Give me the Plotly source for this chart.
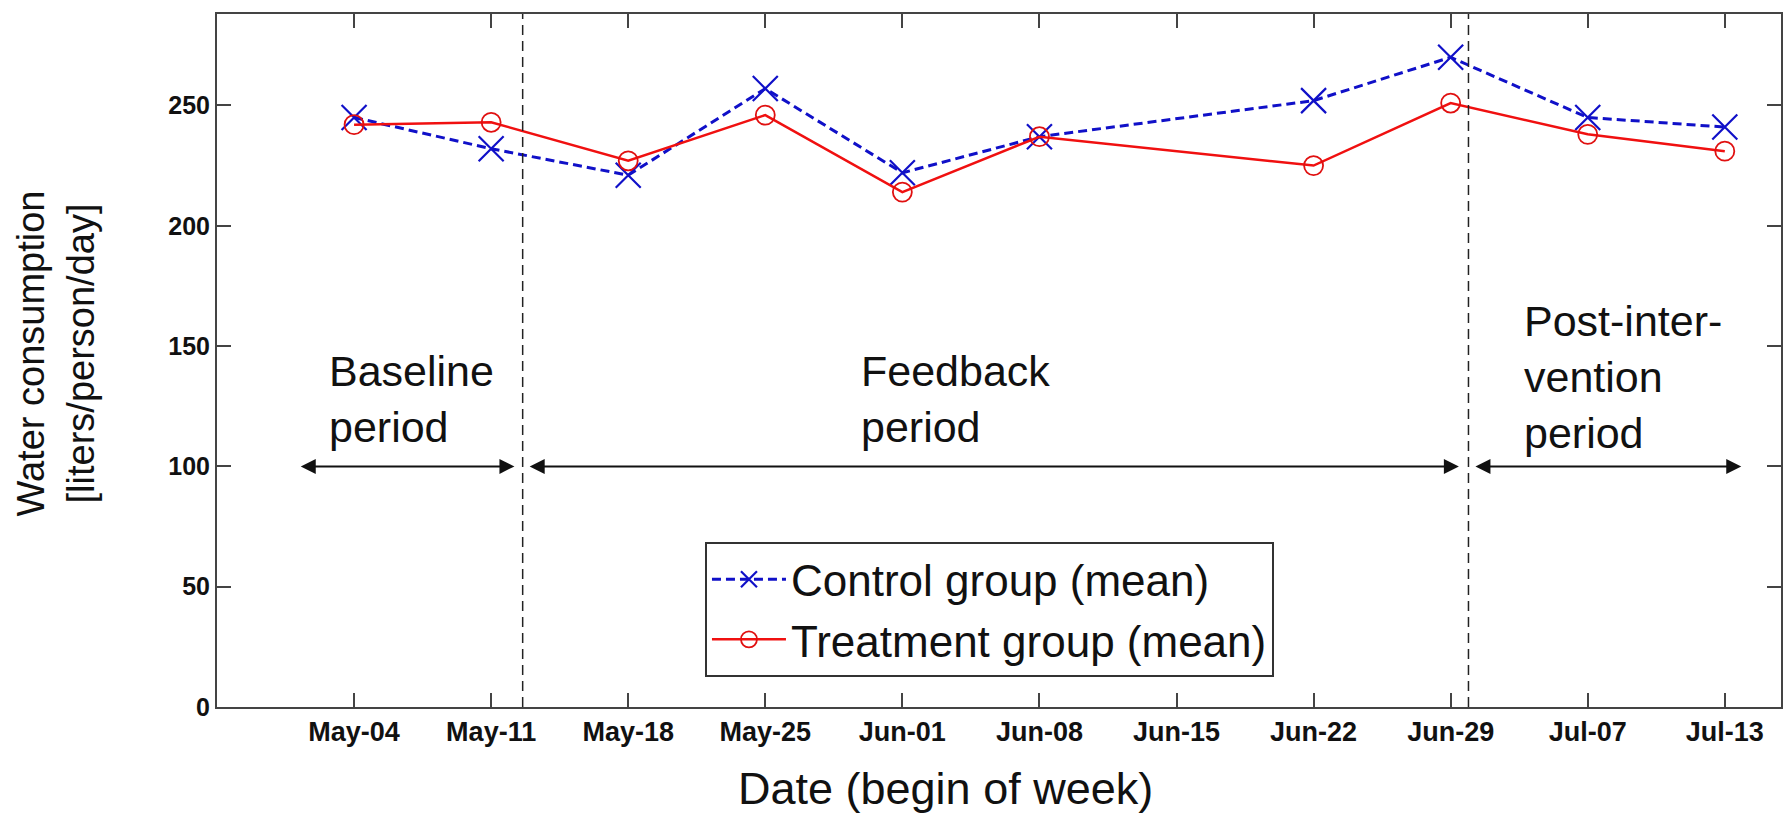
import plotly.graph_objects as go

# Week labels (one tick per week); Jun-15 has no measurement
weeks = ["May-04", "May-11", "May-18", "May-25", "Jun-01", "Jun-08",
         "Jun-15", "Jun-22", "Jun-29", "Jul-07", "Jul-13"]
week_pos = list(range(1, len(weeks) + 1))

obs_pos = [1, 2, 3, 4, 5, 6, 8, 9, 10, 11]
control_mean = [245, 232, 221, 257, 222, 237, 252, 270, 245, 241]
treatment_mean = [242, 243, 227, 246, 214, 237, 225, 251, 238, 231]

# Period boundaries and period arrows (week units, height in liters)
boundaries = [2.23, 9.13]
arrow_y = 100
period_arrows = [(0.60, 2.17), (2.27, 9.06), (9.17, 11.12)]
period_labels = [("Baseline<br>period", 0.80, 128),
                 ("Feedback<br>period", 4.68, 128),
                 ("Post-inter-<br>vention<br>period", 9.52, 137)]

FONT = "Liberation Sans, Arial, sans-serif"
INK = "#111111"

fig = go.Figure()

fig.add_trace(go.Scatter(
    x=obs_pos, y=control_mean, mode="lines+markers",
    name="Control group (mean)",
    line=dict(color="#1010c8", width=3, dash="9px,5px"),
    marker=dict(symbol="x-thin-open", size=25, line=dict(color="#1010c8", width=2.2)),
))
fig.add_trace(go.Scatter(
    x=obs_pos, y=treatment_mean, mode="lines+markers",
    name="Treatment group (mean)",
    line=dict(color="#f01010", width=2.5),
    marker=dict(symbol="circle-open", size=19, color="#e01010", line=dict(color="#d01010", width=1.8)),
))

for b in boundaries:
    fig.add_shape(type="line", xref="x", yref="paper", x0=b, x1=b, y0=0, y1=1,
                  line=dict(color="#222222", width=1.5, dash="10px,6px"))

annotations = []
for x0, x1 in period_arrows:
    annotations.append(dict(
        x=x1, y=arrow_y, ax=x0, ay=arrow_y, xref="x", yref="y", axref="x", ayref="y",
        text="", showarrow=True, arrowhead=2, startarrowhead=2, arrowside="end+start",
        arrowsize=1.5, startarrowsize=1.5, arrowwidth=2, arrowcolor=INK,
    ))
for txt, x, y in period_labels:
    annotations.append(dict(
        x=x, y=y, xref="x", yref="y", text=txt, showarrow=False,
        xanchor="left", yanchor="middle", align="left",
        font=dict(family=FONT, size=43, color=INK),
    ))

# Axis titles
annotations.append(dict(
    x=0.466, y=-0.118, xref="paper", yref="paper", text="Date (begin of week)",
    showarrow=False, xanchor="center", yanchor="middle",
    font=dict(family=FONT, size=45, color=INK),
))
annotations.append(dict(
    x=-0.103, y=0.51, xref="paper", yref="paper",
    text="Water consumption<br>[liters/person/day]", textangle=-90,
    showarrow=False, xanchor="center", yanchor="middle",
    font=dict(family=FONT, size=38, color=INK),
))

fig.update_layout(
    width=1789, height=822,
    margin=dict(l=217, r=6, t=14, b=115),
    paper_bgcolor="white", plot_bgcolor="white",
    showlegend=True,
    legend=dict(
        x=0.312, y=0.238, xanchor="left", yanchor="top",
        bgcolor="white", bordercolor="#333333", borderwidth=2,
        font=dict(family=FONT, size=44, color=INK),
        itemwidth=74, tracegroupgap=0,
    ),
    annotations=annotations,
)

fig.update_xaxes(
    range=[0, 11.41], tickmode="array", tickvals=week_pos, ticktext=weeks,
    showgrid=False, zeroline=False, showline=True, linecolor="#444444", linewidth=2,
    mirror="ticks", ticks="inside", ticklen=14, tickcolor="#444444", tickwidth=1.5,
    tickfont=dict(family=FONT, size=27, color=INK, weight="bold"),
)
fig.update_yaxes(
    range=[0, 288], tickmode="array", tickvals=[0, 50, 100, 150, 200, 250],
    showgrid=False, zeroline=False, showline=True, linecolor="#444444", linewidth=2,
    mirror="ticks", ticks="inside", ticklen=14, tickcolor="#444444", tickwidth=1.5,
    tickfont=dict(family=FONT, size=25, color=INK, weight="bold"),
)

fig.write_html("out.html")
